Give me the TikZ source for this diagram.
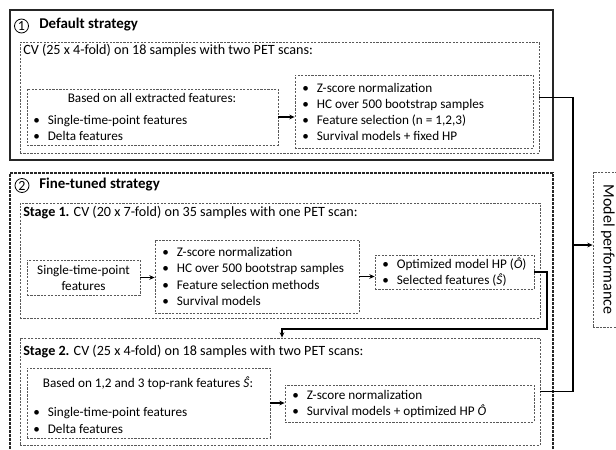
\documentclass[tikz,border=0pt]{standalone}
\usepackage{fontspec}
\setmainfont{Carlito}
\usetikzlibrary{fit,arrows.meta}
\newcommand\bitem{\textbullet\hspace{6pt}}
\begin{document}
\begin{tikzpicture}[x=0.75pt,y=-0.75pt,
  every node/.style={font=\fontsize{9.9}{12.2}\selectfont, inner sep=0pt},
  hdr/.style={anchor=west, font=\fontsize{10.6}{12}\selectfont},
  ibox/.style={draw=black!65, dash pattern=on 1.6pt off 1pt, line width=0.55pt, inner sep=0pt},
  obox/.style={draw=black!85, line width=1.6pt, inner sep=0pt},
  fbox/.style={draw=black!85, dash pattern=on 2pt off 1pt, line width=0.8pt, inner sep=0pt},
  txt/.style={anchor=west, align=left},
  ttl/.style={anchor=west, font=\fontsize{11.2}{13}\selectfont\bfseries},
  num/.style={draw, circle, line width=0.6pt, minimum size=10.5pt, inner sep=0pt, font=\fontsize{10.5}{10.5}\selectfont},
  conn/.style={draw=black, line width=0.8pt},
  arr/.style={conn, -{Stealth[length=4pt,width=3.5pt]}}
]
\useasboundingbox (0,0) rectangle (616,449);
\clip (0,0) rectangle (616,449);

% ---------- Default strategy ----------
\node[obox, fit={(10,10) (553,160)}] (def) {};
\node[num] (n1) at (21.5,26) {1};
\node[ttl] (t1) at (39,25) {Default strategy};
\node[ibox, fit={(20,42) (539,153)}] (cv1) {};
\node[hdr] (cv1t) at (23,50) {CV (25 x 4-fold) on 18 samples with two PET scans:};
\node[ibox, fit={(27,89) (278,145)}] (l1) {};
\node (l1h) at (152,98) {Based on all extracted features:};
\node[txt] (l1b) at (33,128) {\bitem Single-time-point features\\ \bitem Delta features};
\node[ibox, fit={(295,75) (533,148)}] (r1) {};
\node[txt] (r1b) at (302,112) {\bitem Z-score normalization\\ \bitem HC over 500 bootstrap samples\\ \bitem Feature selection (n = 1,2,3)\\ \bitem Survival models + fixed HP};
\draw[arr] (l1.east) -- (l1.east -| r1.west);

% ---------- Fine-tuned strategy ----------
\node[fbox, fit={(10,173) (553,470)}] (fin) {};
\node[num] (n2) at (22,185.5) {2};
\node[ttl] (t2) at (39,185) {Fine-tuned strategy};

\node[ibox, fit={(20,203) (540,318)}] (s1) {};
\node[hdr] (s1t) at (23,213) {\textbf{Stage 1.} CV (20 x 7-fold) on 35 samples with one PET scan:};
\node[ibox, fit={(27,260) (140,295)}] (a1) {};
\node[align=center] (a1t) at (83.5,278) {Single-time-point\\features};
\node[ibox, fit={(155,240) (359,313)}] (b1) {};
\node[txt] (b1b) at (162,276.5) {\bitem Z-score normalization\\ \bitem HC over 500 bootstrap samples\\ \bitem Feature selection methods\\ \bitem Survival models};
\node[ibox, fit={(375,255) (534,289)}] (c1) {};
\node[txt] (c1b) at (382,272) {\bitem Optimized model HP (\textit{Ô})\\ \bitem Selected features (\textit{Ŝ})};
\draw[arr] (a1.east) -- (a1.east -| b1.west);
\draw[arr] (b1.east) -- (b1.east -| c1.west);

\node[ibox, fit={(20,338) (540,445)}] (s2) {};
\node[hdr] (s2t) at (23,352) {\textbf{Stage 2.} CV (25 x 4-fold) on 18 samples with two PET scans:};
\node[ibox, fit={(27,368) (270,438)}] (a2) {};
\node (a2h) at (148,383) {Based on 1,2 and 3 top-rank features \textit{Ŝ}:};
\node[txt] (a2b) at (33,420.5) {\bitem Single-time-point features\\ \bitem Delta features};
\node[ibox, fit={(285,385) (534,422)}] (b2) {};
\node[txt] (b2b) at (292,404) {\bitem Z-score normalization\\ \bitem Survival models + optimized HP \textit{Ô}};
\draw[arr] (a2.east) -- (a2.east -| b2.west);

% stage 1 -> stage 2
\coordinate (k1) at (547,329);
\coordinate (k2) at (282,329);
\draw[arr] (c1.east) -| (k1) -- (k2) -- (k2 |- s2.north);

% ---------- Model performance ----------
\node[ibox, fit={(593,172) (623,327)}] (mp) {};
\node[rotate=-90, font=\fontsize{12}{13}\selectfont] (mpt) at (608,249.5) {Model performance};
\coordinate (bus) at (573,245);
\draw[conn] (cv1.east) -- (cv1.east -| bus) -- (s2.east -| bus) -- (s2.east);
\draw[arr] (bus) -- (bus -| mp.west);
\end{tikzpicture}
\end{document}
